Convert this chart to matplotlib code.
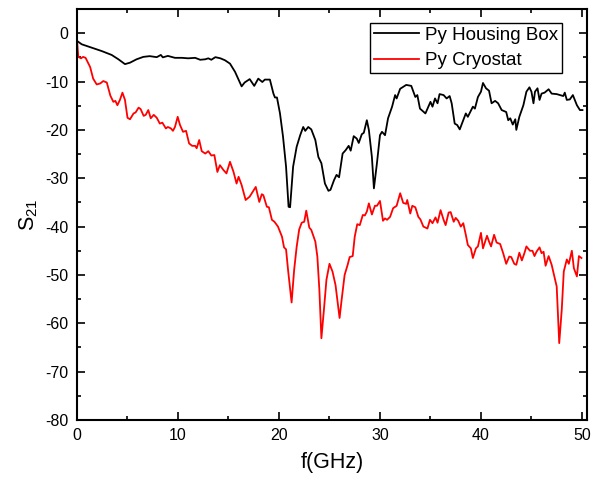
import matplotlib
matplotlib.use("Agg")
import matplotlib.pyplot as plt
from matplotlib.ticker import MultipleLocator

plt.rcParams['font.family'] = ['Liberation Sans', 'DejaVu Sans']
plt.rcParams['mathtext.fontset'] = 'custom'
plt.rcParams['mathtext.rm'] = 'Liberation Sans'
plt.rcParams['mathtext.it'] = 'Liberation Sans'
plt.rcParams['axes.unicode_minus'] = False

housing_f = [0, 0.47, 1.45, 2.45, 3.43, 4.1, 4.75, 5.25, 5.9, 6.57, 7.2, 7.9, 8.3, 8.5, 9.0, 9.7,
             10.4, 11.0, 11.7, 12.2, 12.7, 13.0, 13.3, 13.7, 14.2, 14.65, 15.15, 15.65, 16.3, 16.6,
             17.1, 17.55, 17.95, 18.35, 18.6, 19.1, 19.45, 19.6, 19.8, 20.1, 20.4, 20.7, 20.95, 21.1,
             21.4, 21.75, 22.1, 22.4, 22.6, 22.9, 23.2, 23.6, 23.9, 24.2, 24.55, 24.9, 25.1, 25.45,
             25.7, 25.95, 26.3, 26.6, 26.9, 27.1, 27.4, 27.7, 27.9, 28.2, 28.4, 28.7, 28.9, 29.2,
             29.4, 29.7, 30.0, 30.2, 30.5, 30.8, 31.2, 31.5, 31.65, 32.0, 32.6, 33.1, 33.5, 33.7,
             33.96, 34.5, 35.0, 35.2, 35.45, 35.7, 35.9, 36.3, 36.6, 36.9, 37.1, 37.4, 37.65, 37.9,
             38.25, 38.5, 38.7, 39.2, 39.4, 39.7, 40.0, 40.2, 40.5, 40.8, 41.05, 41.4, 41.7, 42.05,
             42.5, 42.7, 42.9, 43.15, 43.4, 43.5, 43.8, 44.2, 44.5, 44.8, 45.0, 45.2, 45.35, 45.6,
             45.8, 46.0, 46.3, 46.7, 47.0, 47.5, 48.15, 48.3, 48.5, 48.8, 49.1, 49.5, 49.8, 50.05]
housing_s21 = [-1.6, -2.3, -3.0, -3.7, -4.5, -5.4, -6.4, -6.1, -5.4, -4.9, -4.75, -4.96, -4.5, -5.0,
               -4.7, -5.1, -5.1, -5.2, -5.1, -5.5, -5.4, -5.2, -5.5, -4.96, -5.2, -5.6, -6.3, -8.0,
               -11.0, -10.2, -9.5, -10.9, -9.4, -10.1, -9.6, -9.6, -12.5, -13.3, -13.3, -16.6, -21.4,
               -27.6, -35.9, -36.0, -27.6, -23.5, -21.1, -19.4, -20.2, -19.4, -19.9, -22.1, -25.6,
               -26.9, -31.1, -32.6, -32.4, -30.4, -29.3, -29.8, -24.9, -24.2, -23.3, -24.3, -21.3,
               -21.8, -22.7, -20.9, -20.6, -18.0, -20.0, -25.6, -32.1, -26.9, -21.1, -20.4, -21.1,
               -17.6, -15.2, -12.8, -13.5, -11.5, -10.7, -10.9, -13.2, -12.8, -15.6, -16.6, -14.2,
               -15.2, -13.5, -14.5, -12.6, -12.8, -13.5, -13.0, -14.5, -18.7, -19.0, -19.9, -18.0,
               -16.6, -17.3, -15.2, -15.6, -13.2, -12.1, -10.3, -11.4, -11.9, -14.5, -14.0, -14.5,
               -15.9, -16.3, -18.0, -17.6, -18.9, -17.8, -20.0, -17.3, -14.9, -12.1, -11.2, -12.1,
               -14.5, -12.1, -11.4, -13.8, -12.5, -12.3, -11.6, -12.5, -12.6, -13.0, -12.3, -13.8,
               -13.7, -12.8, -14.9, -15.9, -15.9]

cryo_f = [0, 0.13, 0.4, 0.6, 0.85, 1.3, 1.6, 1.95, 2.3, 2.6, 2.95, 3.3, 3.6, 3.8, 4.0, 4.25, 4.5,
          4.75, 5.0, 5.25, 5.6, 5.8, 6.1, 6.3, 6.6, 6.8, 7.06, 7.3, 7.6, 7.9, 8.2, 8.45, 8.8, 9.0,
          9.3, 9.5, 9.7, 9.97, 10.2, 10.5, 10.8, 11.1, 11.4, 11.7, 11.85, 12.1, 12.35, 12.7, 13.0,
          13.3, 13.6, 13.9, 14.15, 14.5, 14.8, 15.15, 15.5, 15.8, 16.0, 16.3, 16.7, 17.1, 17.7,
          18.05, 18.3, 18.45, 18.8, 19.0, 19.3, 19.55, 19.9, 20.3, 20.5, 20.7, 20.9, 21.25, 21.5,
          21.75, 22.0, 22.25, 22.5, 22.7, 23.0, 23.2, 23.6, 23.8, 24.0, 24.2, 24.45, 24.7, 25.0,
          25.3, 25.6, 26.0, 26.2, 26.5, 26.8, 27.0, 27.3, 27.5, 27.75, 28.0, 28.3, 28.5, 28.7,
          28.9, 29.2, 29.5, 29.7, 30.0, 30.3, 30.5, 30.7, 31.0, 31.3, 31.65, 32.0, 32.3, 32.6,
          32.7, 33.0, 33.2, 33.5, 33.8, 34.0, 34.3, 34.7, 34.95, 35.2, 35.5, 35.7, 36.0, 36.3,
          36.5, 36.8, 37.0, 37.3, 37.5, 37.75, 38.0, 38.25, 38.5, 38.7, 39.0, 39.2, 39.5, 39.7,
          40.0, 40.2, 40.6, 40.8, 41.0, 41.3, 41.55, 41.9, 42.2, 42.5, 42.8, 43.0, 43.3, 43.5,
          43.8, 44.05, 44.3, 44.5, 44.85, 45.1, 45.3, 45.5, 45.8, 46.0, 46.2, 46.4, 46.7, 47.0,
          47.2, 47.5, 47.75, 48.0, 48.2, 48.5, 48.7, 49.0, 49.2, 49.5, 49.7, 49.95]
cryo_s21 = [-1.4, -4.9, -5.2, -4.9, -5.1, -7.0, -9.4, -10.6, -10.4, -9.9, -10.2, -12.9, -14.2,
            -14.0, -14.9, -13.8, -12.3, -13.8, -17.5, -17.8, -16.6, -16.4, -15.4, -15.7, -17.1,
            -16.9, -15.9, -17.6, -16.9, -17.5, -18.7, -18.5, -19.7, -19.4, -19.7, -20.2, -19.4,
            -17.3, -19.0, -20.4, -20.2, -22.8, -23.3, -23.3, -23.8, -22.1, -24.4, -24.9, -24.4,
            -25.3, -25.2, -28.7, -27.3, -28.3, -29.0, -26.6, -28.7, -31.1, -29.7, -31.4, -34.5,
            -33.8, -31.8, -34.9, -33.3, -33.5, -35.9, -36.0, -38.6, -39.0, -40.0, -42.1, -44.3,
            -44.7, -49.0, -55.7, -49.0, -44.2, -40.6, -39.2, -39.0, -36.7, -40.2, -40.7, -43.1,
            -46.2, -53.1, -63.1, -57.2, -51.0, -47.7, -49.3, -52.1, -58.9, -55.2, -50.0, -47.9,
            -46.3, -46.1, -42.1, -39.5, -39.7, -37.6, -37.7, -36.9, -35.2, -37.5, -35.7, -35.7,
            -34.7, -38.8, -38.3, -38.6, -38.0, -36.2, -35.7, -33.1, -35.1, -35.3, -34.5, -37.3,
            -35.7, -36.0, -38.0, -38.5, -40.0, -40.4, -38.6, -39.3, -38.1, -39.2, -36.6, -38.6,
            -39.7, -37.1, -37.0, -39.0, -38.2, -38.8, -40.0, -39.3, -41.7, -43.8, -44.5, -46.5,
            -44.5, -44.1, -41.3, -44.5, -41.9, -43.1, -44.1, -41.7, -43.3, -43.6, -45.5, -47.7,
            -46.2, -46.3, -47.7, -47.9, -45.4, -47.0, -45.5, -44.1, -45.0, -45.0, -46.1, -45.2,
            -44.3, -45.5, -45.2, -48.1, -46.1, -47.9, -49.7, -52.4, -64.1, -57.2, -49.3, -46.8,
            -47.7, -45.0, -48.6, -50.3, -46.1, -46.5]

labels = ["Py Housing Box", "Py Cryostat"]

fig = plt.figure(figsize=(5.97, 4.80), dpi=100)
ax = fig.add_axes([77/597, 1 - 420/480, (587-77)/597, (420-9)/480])

ax.plot(housing_f, housing_s21, color='black', lw=1.3, label=labels[0])
ax.plot(cryo_f, cryo_s21, color='#ff0000', lw=1.3, label=labels[1])

ax.set_xlim(0, 50.5)
ax.set_ylim(-80, 5)
ax.xaxis.set_major_locator(MultipleLocator(10))
ax.xaxis.set_minor_locator(MultipleLocator(5))
ax.yaxis.set_major_locator(MultipleLocator(10))
ax.yaxis.set_minor_locator(MultipleLocator(5))
ax.tick_params(which='both', direction='in', top=True, right=True, width=1.2, labelsize=11.5,
               pad=6)
ax.tick_params(which='major', length=6)
ax.tick_params(which='minor', length=3)
for s in ax.spines.values():
    s.set_linewidth(1.5)

ax.set_xlabel("f(GHz)", fontsize=15.5, labelpad=6)
ax.set_ylabel(r"S$_{\mathregular{21}}$", fontsize=15.5, labelpad=4)

leg = ax.legend(loc='upper right', bbox_to_anchor=(0.951, 0.966), borderaxespad=0,
                fontsize=13.5, fancybox=False, edgecolor='black', framealpha=1,
                handlelength=2.4, handletextpad=0.35, labelspacing=0.45, borderpad=0.2)
leg.get_frame().set_linewidth(1.0)

fig.savefig("out.png", dpi=100)
